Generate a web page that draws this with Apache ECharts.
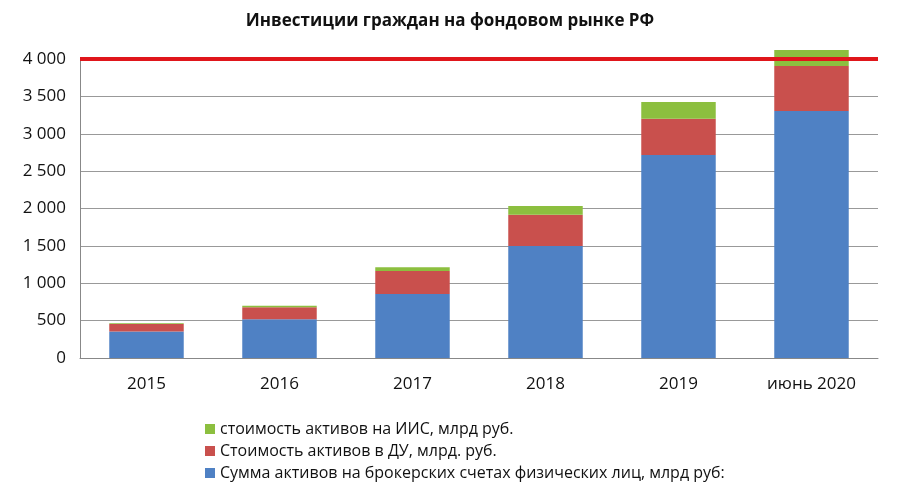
<!DOCTYPE html>
<html><head><meta charset="utf-8">
<script src="https://cdn.jsdelivr.net/npm/echarts@6/dist/echarts.min.js"></script>
<style>html,body{margin:0;background:#fff}#c{width:900px;height:504px}</style>
</head><body><div id="c"></div>
<script>
const categories = ['2015', '2016', '2017', '2018', '2019', 'июнь 2020'];
// слои стека (приращения), млрд руб.
const broker = [355, 520, 855, 1500, 2715, 3305];
const du = [100, 160, 310, 415, 485, 600];
const iis = [10, 20, 50, 120, 225, 215];
const limitLine = 4000;

const chart = echarts.init(document.getElementById('c'));
const fmt = v => String(v).replace(/\B(?=(\d{3})+(?!\d))/g, ' ');
chart.setOption({
  animation: false,
  textStyle: { fontFamily: 'Open Sans' },
  title: {
    text: 'Инвестиции граждан на фондовом рынке РФ', left: 'center', top: 8,
    textStyle: { fontSize: 17, fontWeight: 'bold', color: '#111' }
  },
  legend: {
    orient: 'vertical', left: 200, top: 416, itemGap: 6,
    itemWidth: 10, itemHeight: 10, icon: 'rect',
    textStyle: { fontSize: 16, color: '#111' },
    data: ['стоимость активов на ИИС, млрд руб.', 'Стоимость активов в ДУ, млрд. руб.', 'Сумма активов на брокерских счетах физических лиц, млрд руб:']
  },
  grid: { left: 80, right: 22, top: 59, bottom: 146 },
  xAxis: {
    type: 'category', data: categories,
    axisTick: { show: false }, axisLine: { lineStyle: { color: '#888' } },
    axisLabel: { fontSize: 17, color: '#111', margin: 18 }
  },
  yAxis: {
    type: 'value', min: 0, max: 4000, interval: 500,
    axisLine: { show: true, lineStyle: { color: '#888' } },
    splitLine: { lineStyle: { color: '#999' } },
    axisLabel: { fontSize: 17, color: '#111', formatter: fmt, margin: 14 }
  },
  series: [
    { name: 'Сумма активов на брокерских счетах физических лиц, млрд руб:', type: 'bar', stack: 's', data: broker, barWidth: '56%', clip: false,
      itemStyle: { color: '#4f81c4' },
      markLine: { symbol: 'none', silent: true, label: { show: false }, z: 10,
        lineStyle: { color: '#e0161b', width: 4, type: 'solid' }, data: [{ yAxis: limitLine }] } },
    { name: 'Стоимость активов в ДУ, млрд. руб.', type: 'bar', stack: 's', data: du, clip: false, itemStyle: { color: '#c9504d' } },
    { name: 'стоимость активов на ИИС, млрд руб.', type: 'bar', stack: 's', data: iis, clip: false, itemStyle: { color: '#8cbf3f' } }
  ]
});
</script></body></html>
